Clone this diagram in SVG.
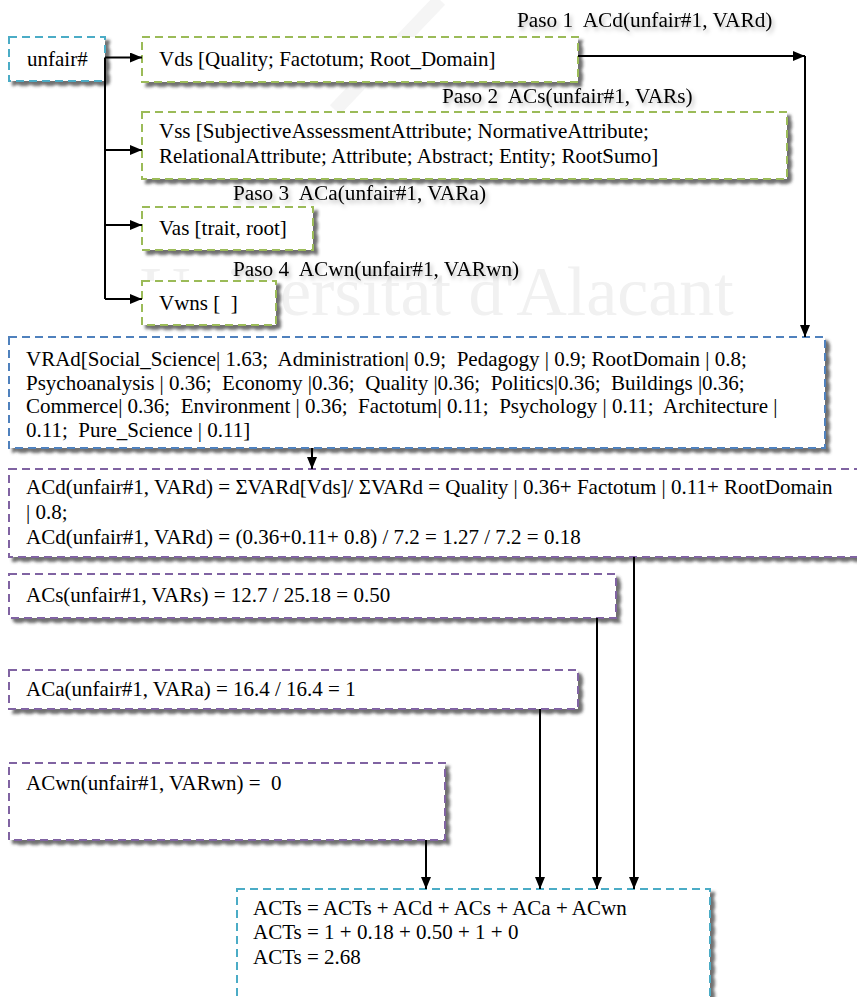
<svg xmlns="http://www.w3.org/2000/svg" width="857" height="997" viewBox="0 0 857 997">
  <style>
    text { font-family: "Liberation Serif", "Times New Roman", serif; font-size: 21px; fill: #000; white-space: pre; }
    .lbl { font-size: 21.3px; filter: url(#tsh); }
    .box { fill: #fff; stroke-width: 2; stroke-dasharray: 8 5; filter: url(#sh); }
    .cyan { stroke: #4BACC6; }
    .green { stroke: #9BBB59; }
    .blue { stroke: #4F81BD; }
    .purple { stroke: #8064A2; }
    .conn line { stroke: #000; stroke-width: 2; fill: none; }
    .conn .arr { marker-end: url(#arr); }
    .wm { font-size: 70px; fill: #f1f1f1; }
  </style>
  <defs>
    <filter id="sh" x="-5%" y="-10%" width="115%" height="135%">
      <feDropShadow dx="4" dy="4" stdDeviation="1.5" flood-color="#404040" flood-opacity="0.75"/>
    </filter>
    <filter id="tsh" x="-5%" y="-30%" width="115%" height="170%">
      <feDropShadow dx="2" dy="3" stdDeviation="2" flood-color="#000" flood-opacity="0.3"/>
    </filter>
    <marker id="arr" markerUnits="userSpaceOnUse" markerWidth="12" markerHeight="10" refX="12" refY="5" orient="auto">
      <path d="M0,0 L12,5 L0,10 z" fill="#000"/>
    </marker>
  </defs>

  <rect width="857" height="997" fill="#fff"/>

  <!-- faint background watermark -->
  <g id="watermark">
    <line x1="335" y1="110" x2="440" y2="0" stroke="#f5f5f5" stroke-width="14"/>
    <text class="wm" x="140" y="315">Universitat d'Alacant</text>
  </g>

  <!-- step labels -->
  <g id="labels">
    <text class="lbl" x="517" y="27">Paso 1  ACd(unfair#1, VARd)</text>
    <text class="lbl" x="442" y="103">Paso 2  ACs(unfair#1, VARs)</text>
    <text class="lbl" x="233" y="200">Paso 3  ACa(unfair#1, VARa)</text>
    <text class="lbl" x="233" y="276">Paso 4  ACwn(unfair#1, VARwn)</text>
  </g>

  <g id="n-unfair">
    <rect class="box cyan" x="9" y="37" width="96" height="44"/>
    <text x="27" y="66">unfair#</text>
  </g>
  <g id="n-vds">
    <rect class="box green" x="142" y="37" width="436" height="45"/>
    <text x="159" y="66">Vds [Quality; Factotum; Root_Domain]</text>
  </g>
  <g id="n-vss">
    <rect class="box green" x="142" y="112" width="645" height="67"/>
    <text x="159" y="138">Vss [SubjectiveAssessmentAttribute; NormativeAttribute;</text>
    <text x="159" y="163">RelationalAttribute; Attribute; Abstract; Entity; RootSumo]</text>
  </g>
  <g id="n-vas">
    <rect class="box green" x="142" y="207" width="171" height="43"/>
    <text x="159" y="235">Vas [trait, root]</text>
  </g>
  <g id="n-vwns">
    <rect class="box green" x="142" y="281" width="134" height="44"/>
    <text x="159" y="310">Vwns [  ]</text>
  </g>
  <g id="n-vrad">
    <rect class="box blue" x="9" y="337" width="816" height="111"/>
    <text x="26" y="366">VRAd[Social_Science| 1.63;  Administration| 0.9;  Pedagogy | 0.9; RootDomain | 0.8;</text>
    <text x="26" y="390">Psychoanalysis | 0.36;  Economy |0.36;  Quality |0.36;  Politics|0.36;  Buildings |0.36;</text>
    <text x="26" y="413">Commerce| 0.36;  Environment | 0.36;  Factotum| 0.11;  Psychology | 0.11;  Architecture |</text>
    <text x="26" y="437">0.11;  Pure_Science | 0.11]</text>
  </g>
  <g id="n-acd">
    <rect class="box purple" x="9" y="469" width="855" height="88"/>
    <text x="26" y="494">ACd(unfair#1, VARd) = ΣVARd[Vds]/ ΣVARd = Quality | 0.36+ Factotum | 0.11+ RootDomain</text>
    <text x="26" y="519">| 0.8;</text>
    <text x="26" y="544">ACd(unfair#1, VARd) = (0.36+0.11+ 0.8) / 7.2 = 1.27 / 7.2 = 0.18</text>
  </g>
  <g id="n-acs">
    <rect class="box purple" x="9" y="574" width="607" height="44"/>
    <text x="26" y="602">ACs(unfair#1, VARs) = 12.7 / 25.18 = 0.50</text>
  </g>
  <g id="n-aca">
    <rect class="box purple" x="9" y="670" width="569" height="39"/>
    <text x="26" y="696">ACa(unfair#1, VARa) = 16.4 / 16.4 = 1</text>
  </g>
  <g id="n-acwn">
    <rect class="box purple" x="9" y="763" width="436" height="77"/>
    <text x="26" y="790">ACwn(unfair#1, VARwn) =  0</text>
  </g>
  <g id="n-acts">
    <rect class="box cyan" x="237" y="889" width="473" height="120"/>
    <text x="253" y="915">ACTs = ACTs + ACd + ACs + ACa + ACwn</text>
    <text x="253" y="939">ACTs = 1 + 0.18 + 0.50 + 1 + 0</text>
    <text x="253" y="964">ACTs = 2.68</text>
  </g>

  <g id="connectors" class="conn">
    <line x1="105" y1="57.5" x2="105" y2="299"/>
    <line class="arr" x1="105" y1="57.5" x2="142" y2="57.5"/>
    <line class="arr" x1="105" y1="150" x2="142" y2="150"/>
    <line class="arr" x1="105" y1="225" x2="142" y2="225"/>
    <line class="arr" x1="105" y1="299" x2="142" y2="299"/>
    <line class="arr" x1="578" y1="56" x2="805" y2="56"/>
    <line class="arr" x1="805" y1="56" x2="805" y2="337"/>
    <line class="arr" x1="312" y1="448" x2="312" y2="469"/>
    <line class="arr" x1="634" y1="557" x2="634" y2="889"/>
    <line class="arr" x1="597" y1="618" x2="597" y2="889"/>
    <line class="arr" x1="540" y1="709" x2="540" y2="889"/>
    <line class="arr" x1="426" y1="840" x2="426" y2="889"/>
  </g>
</svg>
